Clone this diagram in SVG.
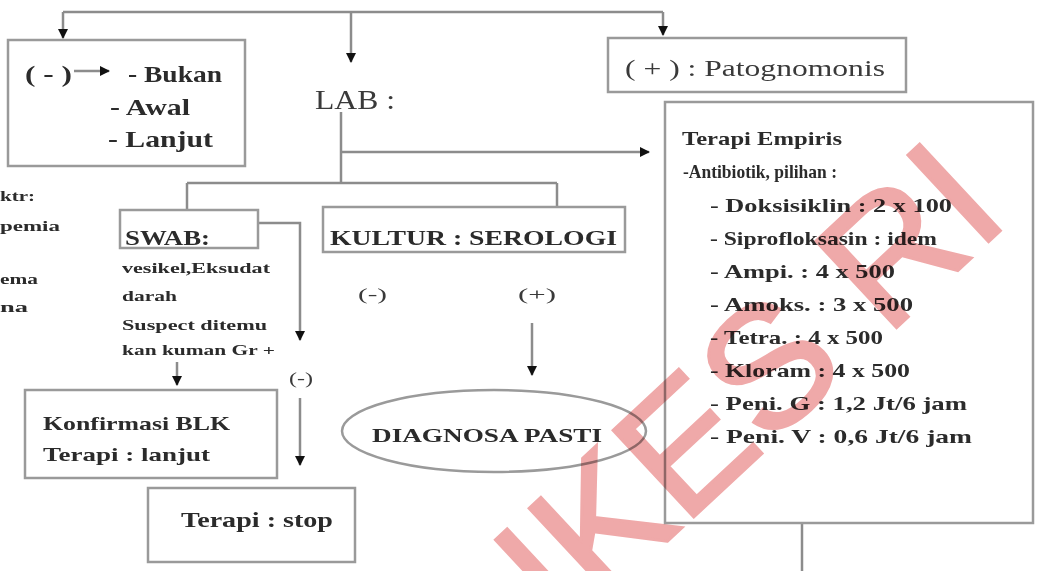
<svg xmlns="http://www.w3.org/2000/svg" width="1039" height="571" viewBox="0 0 1039 571">
<defs>
<marker id="ah" viewBox="0 0 10 10" refX="9" refY="5" markerWidth="10" markerHeight="10" markerUnits="userSpaceOnUse" orient="auto"><path d="M0,0 L10,5 L0,10 z" fill="#111"/></marker>
</defs>
<style>
.box{fill:none;stroke:#9a9a9a;stroke-width:2.5}
.ln{fill:none;stroke:#8c8c8c;stroke-width:2.5}
.t{font-family:"Liberation Serif","Times New Roman",serif;fill:#2b2b2b;font-weight:bold}
.r{font-family:"Liberation Serif","Times New Roman",serif;fill:#3a3a3a}
.wm{font-family:"Liberation Sans",Arial,sans-serif;font-size:172px;fill:#dc4040;stroke:#dc4040;stroke-width:3;opacity:0.45}
</style>
<rect width="1039" height="571" fill="#ffffff"/>

<g id="connectors">
<path class="ln" d="M63,12 H663"/>
<path class="ln" d="M63,12 V38" marker-end="url(#ah)"/>
<path class="ln" d="M351,12 V62" marker-end="url(#ah)"/>
<path class="ln" d="M663,12 V35" marker-end="url(#ah)"/>
<path class="ln" d="M74,71 H109" marker-end="url(#ah)"/>
<path class="ln" d="M341,112 V183"/>
<path class="ln" d="M341,152 H649" marker-end="url(#ah)"/>
<path class="ln" d="M187,183 H557"/>
<path class="ln" d="M187,183 V210"/>
<path class="ln" d="M557,183 V207"/>
<path class="ln" d="M258,223 H300 V340" marker-end="url(#ah)"/>
<path class="ln" d="M300,398 V465" marker-end="url(#ah)"/>
<path class="ln" d="M177,362 V385" marker-end="url(#ah)"/>
<path class="ln" d="M532,323 V375" marker-end="url(#ah)"/>
<path class="ln" d="M802,523 V571"/>
</g>

<g id="node-negatif">
<rect class="box" x="8" y="40" width="237" height="126"/>
<text class="t" x="25" y="82" font-size="24" textLength="47" lengthAdjust="spacingAndGlyphs">( - )</text>
<text class="t" x="128" y="82" font-size="24" textLength="94" lengthAdjust="spacingAndGlyphs">- Bukan</text>
<text class="t" x="110" y="115" font-size="24" textLength="80" lengthAdjust="spacingAndGlyphs">- Awal</text>
<text class="t" x="108" y="147" font-size="24" textLength="105" lengthAdjust="spacingAndGlyphs">- Lanjut</text>
</g>

<g id="node-lab">
<text class="r" x="315" y="109" font-size="28" fill="#555" textLength="80" lengthAdjust="spacingAndGlyphs">LAB :</text>
</g>

<g id="node-positif">
<rect class="box" x="608" y="38" width="298" height="54"/>
<text class="r" x="625" y="76" font-size="23" textLength="260" lengthAdjust="spacingAndGlyphs">( + ) : Patognomonis</text>
</g>

<g id="node-terapi-empiris">
<rect class="box" x="665" y="102" width="368" height="421"/>
<text class="t" x="682" y="145" font-size="19" textLength="160" lengthAdjust="spacingAndGlyphs">Terapi Empiris</text>
<text class="t" x="683" y="178" font-size="19" textLength="154" lengthAdjust="spacingAndGlyphs">-Antibiotik, pilihan :</text>
<text class="t" x="710" y="212" font-size="19" textLength="242" lengthAdjust="spacingAndGlyphs">- Doksisiklin : 2 x 100</text>
<text class="t" x="710" y="245" font-size="19" textLength="227" lengthAdjust="spacingAndGlyphs">- Siprofloksasin : idem</text>
<text class="t" x="710" y="278" font-size="19" textLength="185" lengthAdjust="spacingAndGlyphs">- Ampi. : 4 x 500</text>
<text class="t" x="710" y="311" font-size="19" textLength="203" lengthAdjust="spacingAndGlyphs">- Amoks. : 3 x 500</text>
<text class="t" x="710" y="344" font-size="19" textLength="173" lengthAdjust="spacingAndGlyphs">- Tetra. : 4 x 500</text>
<text class="t" x="710" y="377" font-size="19" textLength="200" lengthAdjust="spacingAndGlyphs">- Kloram : 4 x 500</text>
<text class="t" x="710" y="410" font-size="19" textLength="257" lengthAdjust="spacingAndGlyphs">- Peni. G : 1,2 Jt/6 jam</text>
<text class="t" x="710" y="443" font-size="19" textLength="262" lengthAdjust="spacingAndGlyphs">- Peni. V : 0,6 Jt/6 jam</text>
</g>

<g id="node-swab">
<rect class="box" x="120" y="210" width="138" height="38"/>
<text class="t" x="125" y="245" font-size="21" textLength="85" lengthAdjust="spacingAndGlyphs">SWAB:</text>
<text class="t" x="122" y="273" font-size="15" textLength="148" lengthAdjust="spacingAndGlyphs">vesikel,Eksudat</text>
<text class="t" x="122" y="301" font-size="15" textLength="55" lengthAdjust="spacingAndGlyphs">darah</text>
<text class="t" x="122" y="330" font-size="15" textLength="145" lengthAdjust="spacingAndGlyphs">Suspect ditemu</text>
<text class="t" x="122" y="355" font-size="15" textLength="153" lengthAdjust="spacingAndGlyphs">kan kuman Gr +</text>
<text class="r" x="289" y="384" font-size="17" textLength="24" lengthAdjust="spacingAndGlyphs">(-)</text>
</g>

<g id="node-kultur">
<rect class="box" x="323" y="207" width="302" height="45"/>
<text class="t" x="330" y="245" font-size="21" textLength="287" lengthAdjust="spacingAndGlyphs">KULTUR : SEROLOGI</text>
<text class="r" x="358" y="300" font-size="17" textLength="29" lengthAdjust="spacingAndGlyphs">(-)</text>
<text class="r" x="518" y="300" font-size="17" textLength="38" lengthAdjust="spacingAndGlyphs">(+)</text>
</g>

<g id="node-konfirmasi">
<rect class="box" x="25" y="390" width="252" height="88"/>
<text class="t" x="43" y="430" font-size="19" textLength="187" lengthAdjust="spacingAndGlyphs">Konfirmasi BLK</text>
<text class="t" x="43" y="461" font-size="19" textLength="167" lengthAdjust="spacingAndGlyphs">Terapi : lanjut</text>
</g>

<g id="node-stop">
<rect class="box" x="148" y="488" width="207" height="74"/>
<text class="t" x="181" y="527" font-size="21" fill="#111" textLength="152" lengthAdjust="spacingAndGlyphs">Terapi : stop</text>
</g>

<g id="node-diagnosa">
<ellipse class="box" cx="494" cy="431" rx="152" ry="41"/>
<text class="t" x="372" y="442" font-size="19" fill="#111" textLength="230" lengthAdjust="spacingAndGlyphs">DIAGNOSA PASTI</text>
</g>

<g id="cut-text">
<text class="t" x="0" y="201" font-size="14" textLength="35" lengthAdjust="spacingAndGlyphs">ktr:</text>
<text class="t" x="0" y="231" font-size="14" textLength="60" lengthAdjust="spacingAndGlyphs">pemia</text>
<text class="t" x="0" y="284" font-size="14" textLength="38" lengthAdjust="spacingAndGlyphs">ema</text>
<text class="t" x="0" y="312" font-size="14" textLength="28" lengthAdjust="spacingAndGlyphs">na</text>
</g>

<g id="watermark" style="mix-blend-mode:multiply">
<text class="wm" transform="translate(1012,220) rotate(-43)" text-anchor="end">IKES RI</text>
</g>
</svg>
